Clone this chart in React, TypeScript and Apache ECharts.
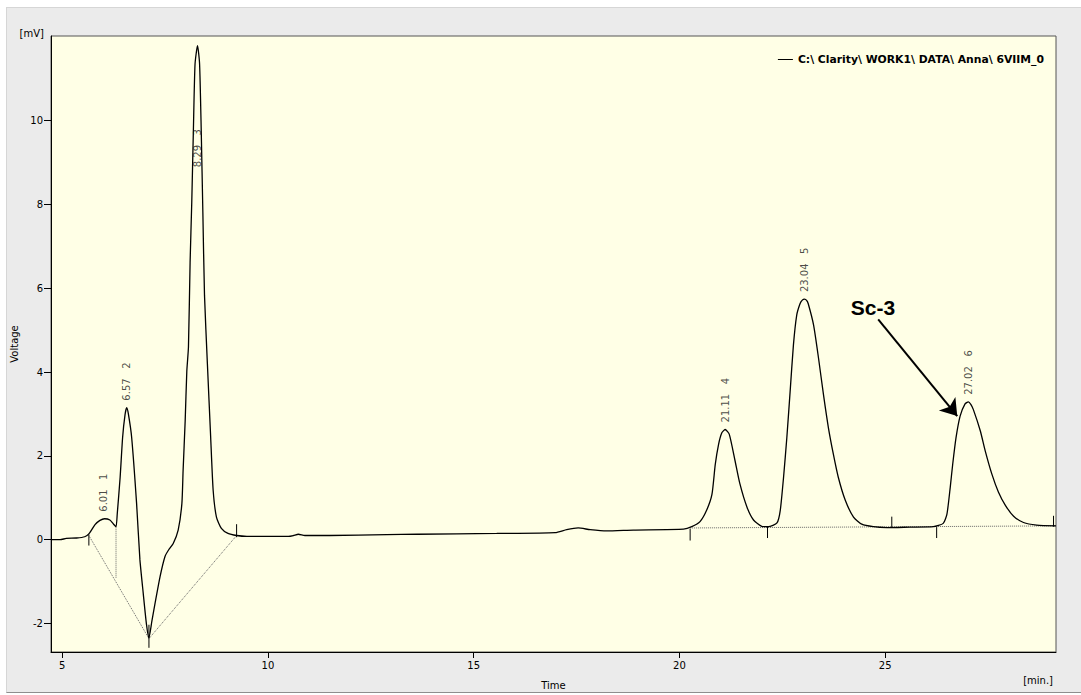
import React, { useEffect, useRef } from "react";
import * as echarts from "echarts";

// ---- data ----
const curveT = [
  4.73, 4.95, 5.1, 5.35, 5.55, 5.66, 5.8, 5.92, 6.03, 6.16, 6.25, 6.31, 6.34, 6.41, 6.47, 6.53, 6.57, 6.61,
  6.69, 6.81, 6.89, 6.97, 7.05, 7.11, 7.18, 7.26, 7.38, 7.5, 7.59, 7.7, 7.82, 7.91, 7.94, 7.99, 8.03, 8.07,
  8.11, 8.15, 8.19, 8.23, 8.29, 8.34, 8.38, 8.42, 8.46, 8.53, 8.61, 8.67, 8.75, 8.87, 9.03, 9.24, 9.49,
  10.5, 10.62, 10.74, 10.9, 11.5, 12.89, 13.62, 15.56, 16.98, 17.26, 17.54, 17.83, 18.23, 18.88, 20.1,
  20.3, 20.5, 20.66, 20.79, 20.87, 20.95, 21.03, 21.11, 21.21, 21.35, 21.47, 21.64, 21.8, 22.0, 22.16,
  22.37, 22.45, 22.53, 22.61, 22.69, 22.77, 22.85, 22.93, 22.98, 23.04, 23.09, 23.13, 23.26, 23.38, 23.5,
  23.62, 23.74, 23.86, 24.03, 24.23, 24.43, 24.71, 25.04, 25.6, 26.17, 26.41, 26.5, 26.58, 26.64, 26.72,
  26.82, 26.94, 27.02, 27.08, 27.14, 27.31, 27.43, 27.59, 27.75, 27.92, 28.12, 28.36, 28.68, 29.15,
];
const curveV = [
  0.0, 0.0, 0.03, 0.04, 0.07, 0.15, 0.36, 0.46, 0.5, 0.47, 0.37, 0.31, 0.62, 1.49, 2.44, 2.99, 3.15, 3.0,
  2.44, 0.86, -0.47, -1.27, -2.02, -2.34, -1.95, -1.51, -0.88, -0.4, -0.24, -0.09, 0.23, 0.86, 1.65, 2.83,
  4.02, 4.6, 6.62, 8.04, 9.78, 11.35, 11.79, 11.36, 9.78, 7.81, 5.83, 4.2, 2.44, 1.18, 0.54, 0.27, 0.15,
  0.1, 0.08, 0.08, 0.1, 0.13, 0.1, 0.1, 0.12, 0.13, 0.15, 0.17, 0.24, 0.28, 0.24, 0.21, 0.23, 0.25, 0.31,
  0.43, 0.7, 1.08, 1.79, 2.27, 2.55, 2.63, 2.52, 1.89, 1.33, 0.78, 0.47, 0.32, 0.31, 0.4, 0.7, 1.49, 2.44,
  3.54, 4.65, 5.36, 5.63, 5.71, 5.74, 5.71, 5.63, 5.12, 4.33, 3.46, 2.67, 2.04, 1.49, 0.94, 0.54, 0.37,
  0.31, 0.29, 0.3, 0.31, 0.39, 0.61, 1.25, 1.8, 2.43, 2.95, 3.24, 3.29, 3.23, 3.11, 2.6, 2.12, 1.57, 1.14,
  0.82, 0.56, 0.41, 0.35, 0.33,
];

const peakT = [6.01, 6.57, 8.29, 21.11, 23.04, 27.02];
const peakH = [0.5, 3.15, 11.79, 2.63, 5.74, 3.29];
const peakNo = [1, 2, 3, 4, 5, 6];

// integration baselines
const dropBaseT = [5.65, 7.11, 9.24];
const dropBaseV = [0.1, -2.36, 0.1];
const splitT = [6.31, 6.31];
const splitV = [0.31, -0.93];
const mainBaseT = [20.26, 29.15];
const mainBaseV = [0.28, 0.33];

// peak start / end markers: [time, from, to]
const markerT = [5.65, 7.11, 9.24, 20.26, 22.14, 25.16, 26.25, 29.09];
const markerFrom = [0.13, -2.03, 0.37, 0.26, 0.31, 0.55, 0.3, 0.57];
const markerTo = [-0.14, -2.58, 0.06, -0.02, 0.04, 0.28, 0.04, 0.31];

const arrowFrom = [24.83, 5.26];
const arrowTo = [26.75, 2.95];

const xTicks = [5, 10, 15, 20, 25];
const yTicks = [-2, 0, 2, 4, 6, 8, 10];

const seriesName = "C:\\ Clarity\\ WORK1\\ DATA\\ Anna\\ 6VIIM_0";

const FONT = "'DejaVu Sans', Verdana, sans-serif";
const labelCeiling = 8.72;

export default function App() {
  const ref = useRef<HTMLDivElement>(null);

  useEffect(() => {
    const chart = echarts.init(ref.current!, null, { renderer: "svg" });
    const zip = (a: number[], b: number[]) => a.map((t, i) => [t, b[i]]);

    const option: any = {
      animation: false,
      backgroundColor: "transparent",
      grid: {
        left: 51,
        top: 36,
        right: 25,
        bottom: 39,
        show: true,
        backgroundColor: "#ffffe6",
        borderColor: "#555",
        borderWidth: 1,
      },
      legend: {
        data: [{ name: seriesName, icon: "rect" }],
        right: 32,
        top: 49,
        itemWidth: 15,
        itemHeight: 1,
        itemGap: 6,
        textStyle: { fontFamily: FONT, fontSize: 10.8, fontWeight: "bold", color: "#000" },
        selectedMode: false,
      },
      xAxis: {
        type: "value",
        min: 4.73,
        max: 29.15,
        name: "Time",
        nameLocation: "middle",
        nameGap: 28,
        nameTextStyle: { fontFamily: FONT, fontSize: 10, color: "#000" },
        axisLine: { show: true, onZero: false, lineStyle: { color: "#000", width: 1 } },
        axisTick: { show: true, length: 6, customValues: xTicks, lineStyle: { color: "#000" } },
        axisLabel: { customValues: xTicks, margin: 8, fontFamily: FONT, fontSize: 10, color: "#000" },
        splitLine: { show: false },
      },
      yAxis: {
        type: "value",
        min: -2.68,
        max: 12.02,
        name: "Voltage",
        nameLocation: "middle",
        nameRotate: 90,
        nameGap: 30,
        nameTextStyle: { fontFamily: FONT, fontSize: 10, color: "#000" },
        axisLine: { show: true, onZero: false, lineStyle: { color: "#000", width: 1 } },
        axisTick: { show: true, length: 7, customValues: yTicks, lineStyle: { color: "#000" } },
        axisLabel: { customValues: yTicks, margin: 8, fontFamily: FONT, fontSize: 10, color: "#000" },
        splitLine: { show: false },
      },
      graphic: [
        {
          type: "text",
          x: 44,
          y: 33,
          style: {
            text: "[mV]",
            textAlign: "right",
            textVerticalAlign: "middle",
            fontFamily: FONT,
            fontSize: 10,
            fill: "#000",
          },
        },
        {
          type: "text",
          x: 1053,
          y: 680,
          style: {
            text: "[min.]",
            textAlign: "right",
            textVerticalAlign: "middle",
            fontFamily: FONT,
            fontSize: 10,
            fill: "#000",
          },
        },
        {
          type: "text",
          x: 873,
          y: 307,
          style: {
            text: "Sc-3",
            textAlign: "center",
            textVerticalAlign: "middle",
            fontFamily: "'Liberation Sans', Arial, sans-serif",
            fontSize: 21,
            fontWeight: "bold",
            fill: "#000",
          },
        },
      ],
      series: [
        {
          name: "dropBase",
          type: "line",
          data: zip(dropBaseT, dropBaseV),
          showSymbol: false,
          silent: true,
          lineStyle: { color: "#666", width: 1, type: "dotted" },
          z: 1,
        },
        {
          name: "split",
          type: "line",
          data: zip(splitT, splitV),
          showSymbol: false,
          silent: true,
          lineStyle: { color: "#666", width: 1, type: "dotted" },
          z: 1,
        },
        {
          name: "mainBase",
          type: "line",
          data: zip(mainBaseT, mainBaseV),
          showSymbol: false,
          silent: true,
          lineStyle: { color: "#666", width: 1, type: "dotted" },
          z: 1,
        },
        {
          name: seriesName,
          type: "line",
          data: zip(curveT, curveV),
          showSymbol: false,
          silent: true,
          smooth: 0.2,
          color: "#000",
          lineStyle: { color: "#000", width: 1.3 },
          z: 3,
          markLine: {
            silent: true,
            symbol: ["none", "arrow"],
            symbolSize: 16,
            lineStyle: { color: "#000", width: 2, type: "solid" },
            label: { show: false },
            data: [[{ coord: arrowFrom }, { coord: arrowTo }]],
          },
        },
        {
          name: "markers",
          type: "custom",
          silent: true,
          data: markerT.map((t, i) => [t, markerFrom[i], markerTo[i]]),
          encode: { x: 0, y: [1, 2] },
          renderItem: (params: any, api: any) => {
            const p1 = api.coord([api.value(0), api.value(1)]);
            const p2 = api.coord([api.value(0), api.value(2)]);
            return {
              type: "line",
              shape: { x1: p1[0], y1: p1[1], x2: p2[0], y2: p2[1] },
              style: { stroke: "#000", lineWidth: 1 },
            };
          },
          z: 4,
        },
        {
          name: "peakLabels",
          type: "scatter",
          silent: true,
          symbolSize: 0.1,
          itemStyle: { color: "rgba(0,0,0,0)" },
          data: peakT.map((t, i) => [t, Math.min(peakH[i], labelCeiling)]),
          label: {
            show: true,
            position: "top",
            distance: 7,
            rotate: 90,
            align: "left",
            verticalAlign: "middle",
            fontFamily: FONT,
            fontSize: 10,
            color: "#1a1a1a",
            formatter: (p: any) => `${peakT[p.dataIndex].toFixed(2)}   ${peakNo[p.dataIndex]}`,
          },
          z: 5,
        },
      ],
    };

    chart.setOption(option);
    return () => chart.dispose();
  }, []);

  return (
    <div>
      <div
        style={{
          position: "absolute",
          left: 6,
          top: 7,
          width: 1075,
          height: 686,
          background: "#ebebeb",
          borderTop: "1px solid #d6d6d6",
          borderLeft: "1px solid #d6d6d6",
          borderBottom: "1px solid #8e8e8e",
          boxSizing: "border-box",
        }}
      />
      <div ref={ref} style={{ position: "absolute", left: 0, top: 0, width: 1081, height: 695 }} />
    </div>
  );
}
